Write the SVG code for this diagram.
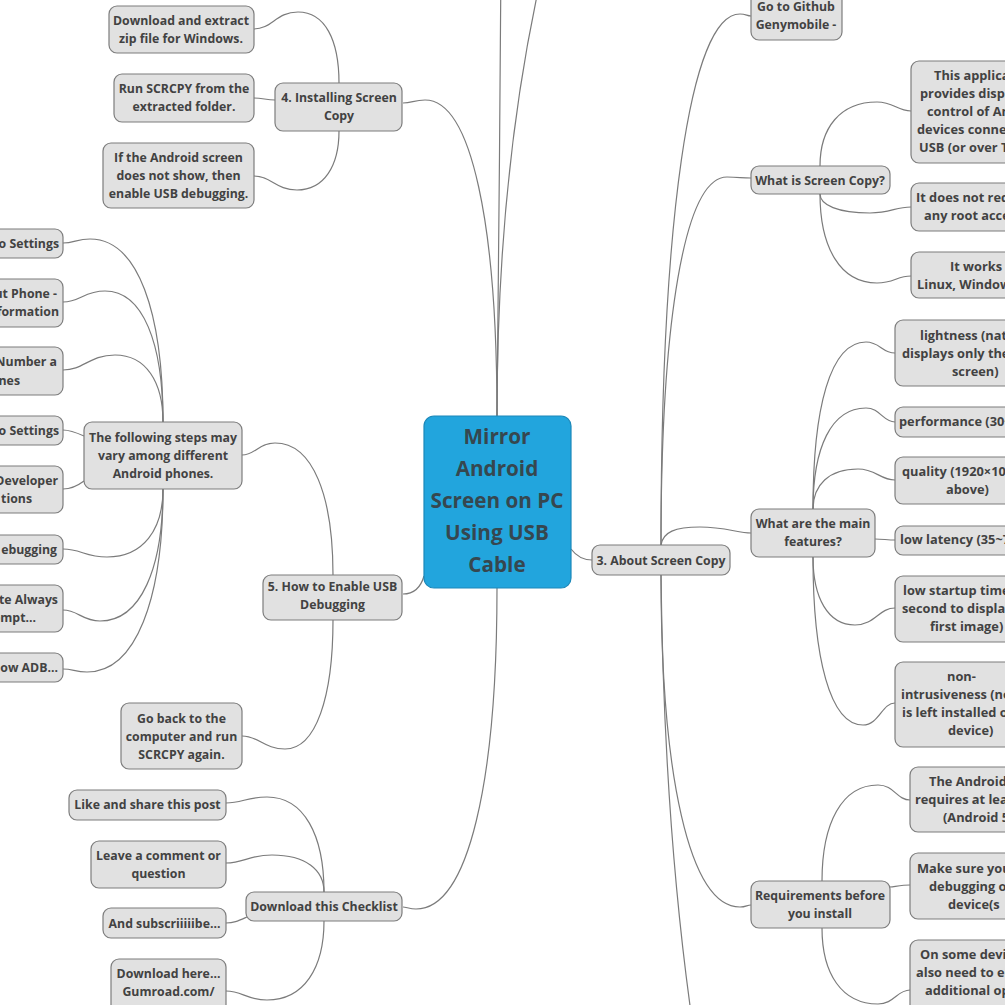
<svg xmlns="http://www.w3.org/2000/svg" width="1005" height="1005" viewBox="0 0 1005 1005">
<style>
.n rect{fill:#e1e1e1;stroke:#7d7d7d;stroke-width:1.2}
.n text{font-family:"Open Sans","Noto Sans",sans-serif;font-weight:700;font-size:12.3px;fill:#424242;text-anchor:middle}
.s text{text-anchor:start;font-size:12.8px}
.e text{text-anchor:end;font-size:12.3px}
#root rect{fill:#22a5dd;stroke:#1c88b9;stroke-width:1.2}
#root text{font-family:"Open Sans","Noto Sans",sans-serif;font-weight:700;font-size:20.7px;fill:#36474f;text-anchor:middle}
#connectors path{fill:none;stroke:#7b7b7b;stroke-width:1.2}
</style>
<rect x="0" y="0" width="1005" height="1005" fill="#ffffff"/>
<g id="connectors">
<path d="M497,416 C497,300 501,100 501,-40"/>
<path d="M497,416 C497,250 512,100 545,-40"/>
<path d="M497,416 C497,226 472,100 425,100 C414,100 412,103 403,103"/>
<path d="M497,588 C497,780 469,909 416,909 C410,909 406,907 403,907"/>
<path d="M424,576 C420,590 412,594 403,594"/>
<path d="M571,549 C577,557 583,560 592,560"/>
<path d="M339,83 C339,40 325,12 298,12 C276,12 272,29 254,29"/>
<path d="M275,100 C266,100 263,98 254,98"/>
<path d="M339,131 C339,166 324,190 297,190 C276,190 271,176 254,176"/>
<path d="M333,575 C333,496 313,443 275,443 C259,443 255,455 242,455"/>
<path d="M333,620 C333,697 316,749 285,749 C264,749 259,736 242,736"/>
<path d="M163,422 C163,312 138,239 90,239 C77,239 74,243 63,243"/>
<path d="M163,422 C163,343 143,291 105,291 C84,291 80,302 63,302"/>
<path d="M163,422 C163,382 146,355 115,355 C89,355 84,370 63,370"/>
<path d="M84,436 C75,432 70,430 63,430"/>
<path d="M84,481 C76,487 70,489 63,489"/>
<path d="M163,489 C163,530 143,557 107,557 C85,557 81,549 63,549"/>
<path d="M163,489 C163,568 141,621 100,621 C82,621 78,610 63,610"/>
<path d="M163,489 C163,599 136,672 87,672 C75,672 73,669 63,669"/>
<path d="M324,892 C324,835 304,797 267,797 C247,797 242,803 226,803"/>
<path d="M324,892 C324,870 306,855 272,855 C249,855 244,863 226,863"/>
<path d="M247,917 C238,921 234,923 226,923"/>
<path d="M324,921 C324,968 304,1000 267,1000 C247,1000 242,991 226,991"/>
<path d="M661,545 C661,226 689,14 740,14 C746,14 747,16 751,16"/>
<path d="M661,545 C661,324 684,177 727,177 C739,177 741,178 751,178"/>
<path d="M661,545 C663,532 675,527 700,527 C725,527 738,533 751,533"/>
<path d="M661,575 C661,774 689,907 740,907 C746,907 747,905 751,905"/>
<path d="M661,575 C663,750 675,900 692,1020"/>
<path d="M820,166 C820,128 840,102 877,102 C894,102 897,111 911,111"/>
<path d="M820,194 C820,205 838,213 870,213 C891,213 895,207 911,207"/>
<path d="M820,194 C820,247 840,283 877,283 C894,283 897,276 911,276"/>
<path d="M813,509 C813,408 830,342 866,342 C880,342 882,353 895,353"/>
<path d="M813,509 C813,448 831,408 866,408 C880,408 883,422 895,422"/>
<path d="M813,509 C813,485 829,469 858,469 C876,469 880,480 895,480"/>
<path d="M875,539 C882,539 888,540 895,540"/>
<path d="M813,557 C813,598 828,625 855,625 C875,625 879,608 895,608"/>
<path d="M813,557 C813,658 830,725 863,725 C879,725 882,703 895,703"/>
<path d="M822,881 C822,823 842,785 878,785 C894,785 897,800 910,800"/>
<path d="M890,887 C898,886 903,885 910,885"/>
<path d="M822,928 C822,974 842,1004 878,1004 C894,1004 897,990 910,990"/>
</g>
<g id="root"><rect x="424" y="416" width="147" height="172" rx="10"/>
<text x="497" y="443.5">Mirror</text><text x="497" y="475.5">Android</text><text x="497" y="507.5">Screen on PC</text><text x="497" y="539.5">Using USB</text><text x="497" y="571.5">Cable</text></g>
<g id="about" class="n"><rect x="592" y="545" width="138" height="30" rx="8"/><text x="661" y="564.5">3. About Screen Copy</text></g>
<g id="github" class="n"><rect x="751" y="-10" width="91" height="50" rx="8"/><text x="796" y="10.5">Go to Github</text><text x="796" y="28.5">Genymobile -</text></g>
<g id="whatis" class="n"><rect x="751" y="166" width="139" height="28" rx="8"/><text x="820" y="184.5">What is Screen Copy?</text></g>
<g id="appl" class="n s"><rect x="911" y="61" width="150" height="102" rx="8"/><text x="934" y="79.5">This applica</text><text x="920" y="97.5">provides displa</text><text x="927" y="115.5">control of An</text><text x="917" y="133.5">devices connec</text><text x="919" y="151.5">USB (or over TC</text></g>
<g id="noroot" class="n s"><rect x="911" y="183" width="150" height="48" rx="8"/><text x="916" y="201.5">It does not req</text><text x="924" y="219.5">any root acce</text></g>
<g id="works" class="n s"><rect x="911" y="252" width="150" height="46" rx="8"/><text x="950" y="270.5">It works</text><text x="917" y="288.5">Linux, Window</text></g>
<g id="features" class="n"><rect x="751" y="509" width="124" height="48" rx="8"/><text x="813" y="527.5">What are the main</text><text x="813" y="545.5">features?</text></g>
<g id="light" class="n s"><rect x="895" y="320" width="150" height="66" rx="8"/><text x="920" y="339.5">lightness (nat</text><text x="902" y="357.5">displays only the</text><text x="952" y="375.5">screen)</text></g>
<g id="perf" class="n s"><rect x="895" y="407" width="150" height="30" rx="8"/><text x="899" y="425.5">performance (30~</text></g>
<g id="quality" class="n s"><rect x="895" y="457" width="150" height="47" rx="8"/><text x="902" y="475.5">quality (1920×108</text><text x="946" y="493.5">above)</text></g>
<g id="latency" class="n s"><rect x="895" y="526" width="150" height="29" rx="8"/><text x="900" y="543.5">low latency (35~7</text></g>
<g id="startup" class="n s"><rect x="895" y="576" width="150" height="66" rx="8"/><text x="903" y="594.5">low startup time</text><text x="902" y="612.5">second to display</text><text x="930" y="630.5">first image)</text></g>
<g id="nonintr" class="n s"><rect x="895" y="662" width="150" height="85" rx="8"/><text x="947" y="680.5">non-</text><text x="901" y="698.5">intrusiveness (no</text><text x="902" y="716.5">is left installed o</text><text x="948" y="734.5">device)</text></g>
<g id="req" class="n"><rect x="751" y="881" width="139" height="47" rx="8"/><text x="820" y="899.5">Requirements before</text><text x="820" y="917.5">you install</text></g>
<g id="andr" class="n s"><rect x="910" y="767" width="150" height="65" rx="8"/><text x="929" y="785.5">The Android</text><text x="915" y="803.5">requires at lea</text><text x="943" y="821.5">(Android 5</text></g>
<g id="makesure" class="n s"><rect x="910" y="853" width="150" height="66" rx="8"/><text x="917" y="872.5">Make sure you</text><text x="929" y="890.5">debugging o</text><text x="948" y="908.5">device(s</text></g>
<g id="onsome" class="n s"><rect x="910" y="940" width="150" height="100" rx="8"/><text x="920" y="958.5">On some devic</text><text x="916" y="976.5">also need to en</text><text x="925" y="994.5">additional op</text></g>
<g id="install" class="n"><rect x="275" y="83" width="127" height="48" rx="8"/><text x="339" y="101.5">4. Installing Screen</text><text x="339" y="119.5">Copy</text></g>
<g id="dlzip" class="n"><rect x="109" y="6" width="145" height="47" rx="8"/><text x="181" y="24.5">Download and extract</text><text x="181" y="42.5">zip file for Windows.</text></g>
<g id="run" class="n"><rect x="114" y="74" width="140" height="48" rx="8"/><text x="184" y="92.5">Run SCRCPY from the</text><text x="184" y="110.5">extracted folder.</text></g>
<g id="ifnot" class="n"><rect x="103" y="143" width="151" height="65" rx="8"/><text x="178.5" y="161.5">If the Android screen</text><text x="178.5" y="179.5">does not show, then</text><text x="178.5" y="197.5">enable USB debugging.</text></g>
<g id="enable" class="n"><rect x="263" y="575" width="139" height="45" rx="8"/><text x="332.5" y="590.5">5. How to Enable USB</text><text x="332.5" y="608.5">Debugging</text></g>
<g id="steps" class="n"><rect x="84" y="422" width="158" height="67" rx="8"/><text x="163" y="441.5">The following steps may</text><text x="163" y="459.5">vary among different</text><text x="163" y="477.5">Android phones.</text></g>
<g id="goback" class="n"><rect x="121" y="703" width="121" height="66" rx="8"/><text x="181.5" y="722.5">Go back to the</text><text x="181.5" y="740.5">computer and run</text><text x="181.5" y="758.5">SCRCPY again.</text></g>
<g id="s1" class="n e"><rect x="-90" y="229" width="153" height="29" rx="8"/><text x="59" y="247.5">o Settings</text></g>
<g id="s2" class="n e"><rect x="-90" y="279" width="153" height="48" rx="8"/><text x="57" y="297.5">ut Phone -</text><text x="59" y="315.5">formation</text></g>
<g id="s3" class="n e"><rect x="-90" y="347" width="153" height="48" rx="8"/><text x="57" y="365.5">Number a</text><text x="20" y="384.5">nes</text></g>
<g id="s4" class="n e"><rect x="-90" y="416" width="153" height="29" rx="8"/><text x="59" y="434.5">o Settings</text></g>
<g id="s5" class="n e"><rect x="-90" y="466" width="153" height="47" rx="8"/><text x="58" y="484.5">Developer</text><text x="32" y="502.5">tions</text></g>
<g id="s6" class="n e"><rect x="-90" y="535" width="153" height="29" rx="8"/><text x="57" y="553.5">ebugging</text></g>
<g id="s7" class="n e"><rect x="-90" y="585" width="153" height="47" rx="8"/><text x="58" y="603.5">te Always</text><text x="36" y="621.5">ompt...</text></g>
<g id="s8" class="n e"><rect x="-90" y="653" width="153" height="29" rx="8"/><text x="58" y="671.5">low ADB...</text></g>
<g id="checklist" class="n"><rect x="246" y="892" width="156" height="29" rx="8"/><text x="324" y="911">Download this Checklist</text></g>
<g id="like" class="n"><rect x="69" y="790" width="157" height="30" rx="8"/><text x="147.5" y="808.5">Like and share this post</text></g>
<g id="leave" class="n"><rect x="91" y="841" width="135" height="47" rx="8"/><text x="158.5" y="859.5">Leave a comment or</text><text x="158.5" y="877.5">question</text></g>
<g id="subscr" class="n"><rect x="103" y="908" width="123" height="30" rx="8"/><text x="164.5" y="927.5">And subscriiiiibe...</text></g>
<g id="dlhere" class="n"><rect x="111" y="959" width="115" height="60" rx="8"/><text x="168.5" y="977.5">Download here...</text><text x="168.5" y="995.5">Gumroad.com/</text></g>
</svg>
